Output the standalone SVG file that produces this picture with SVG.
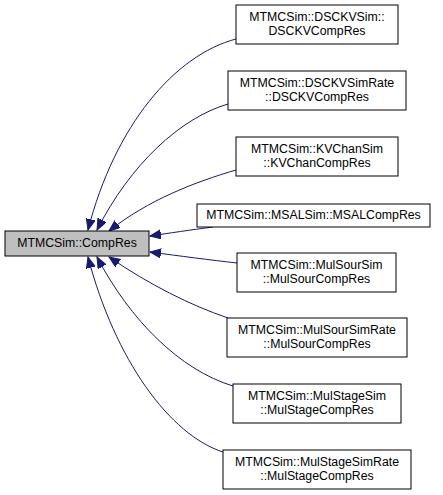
<svg xmlns="http://www.w3.org/2000/svg" width="443" height="495" viewBox="0 0 443 495">
<defs>
<style>
.box{fill:#ffffff;stroke:#000000;stroke-width:1}
.main{fill:#bfbfbf;stroke:#000000;stroke-width:1}
text{font-family:"Liberation Sans",Arial,sans-serif;font-size:12.3px;fill:#000000;text-anchor:middle}
.edge{fill:none;stroke:#191970;stroke-width:1}
</style>
<marker id="arr" markerUnits="userSpaceOnUse" markerWidth="12" markerHeight="10" refX="11" refY="4.5" orient="auto">
<path d="M0,0 L11,4.5 L0,9 z" fill="#191970" stroke="#191970" stroke-width="1"/>
</marker>
</defs>
<rect width="443" height="495" fill="#ffffff"/>
<g id="connectors">
<path class="edge" marker-end="url(#arr)" d="M236,39 C175,55 115,125 88,230"/>
<path class="edge" marker-end="url(#arr)" d="M228,104 C180,118 130,165 97,230"/>
<path class="edge" marker-end="url(#arr)" d="M236,170 C195,182 148,200 109,231"/>
<path class="edge" marker-end="url(#arr)" d="M213,227 C190,230 170,233 150,236"/>
<path class="edge" marker-end="url(#arr)" d="M237,263 C210,260 180,256 150,252"/>
<path class="edge" marker-end="url(#arr)" d="M228,318 C190,305 150,285 109,257"/>
<path class="edge" marker-end="url(#arr)" d="M233,386 C180,370 130,320 97,257"/>
<path class="edge" marker-end="url(#arr)" d="M223,452 C170,435 115,360 88,257"/>
</g>
<g id="node-main">
<rect class="main" x="5" y="231" width="144" height="25"/>
<text x="77" y="247">MTMCSim::CompRes</text>
</g>
<g id="node-1">
<rect class="box" x="236" y="5" width="162" height="39"/>
<text x="317" y="21">MTMCSim::DSCKVSim::</text>
<text x="317" y="35">DSCKVCompRes</text>
</g>
<g id="node-2">
<rect class="box" x="228" y="71" width="178" height="39"/>
<text x="317" y="87">MTMCSim::DSCKVSimRate</text>
<text x="317" y="101">::DSCKVCompRes</text>
</g>
<g id="node-3">
<rect class="box" x="236" y="137" width="162" height="39"/>
<text x="317" y="153">MTMCSim::KVChanSim</text>
<text x="317" y="167">::KVChanCompRes</text>
</g>
<g id="node-4">
<rect class="box" x="197" y="204" width="233" height="23"/>
<text x="313.5" y="219">MTMCSim::MSALSim::MSALCompRes</text>
</g>
<g id="node-5">
<rect class="box" x="237" y="253" width="159" height="39"/>
<text x="316.5" y="269">MTMCSim::MulSourSim</text>
<text x="316.5" y="283">::MulSourCompRes</text>
</g>
<g id="node-6">
<rect class="box" x="227" y="318" width="180" height="39"/>
<text x="317" y="334">MTMCSim::MulSourSimRate</text>
<text x="317" y="348">::MulSourCompRes</text>
</g>
<g id="node-7">
<rect class="box" x="233" y="384" width="168" height="39"/>
<text x="317" y="400">MTMCSim::MulStageSim</text>
<text x="317" y="414">::MulStageCompRes</text>
</g>
<g id="node-8">
<rect class="box" x="223" y="450" width="188" height="39"/>
<text x="317" y="466">MTMCSim::MulStageSimRate</text>
<text x="317" y="480">::MulStageCompRes</text>
</g>
</svg>
